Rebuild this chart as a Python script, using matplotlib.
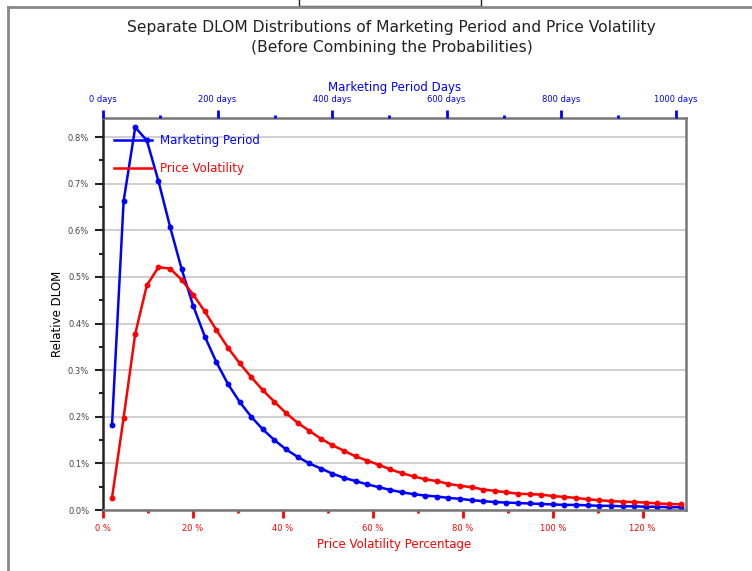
import numpy as np
import matplotlib
matplotlib.use("Agg")
import matplotlib.pyplot as plt
from matplotlib.lines import Line2D
from matplotlib.patches import Rectangle
from matplotlib.ticker import MultipleLocator, FuncFormatter

# relative DLOM in percent
marketing = [0.182, 0.663, 0.821, 0.793, 0.706, 0.608, 0.517, 0.438, 0.372, 0.317,
             0.270, 0.232, 0.200, 0.173, 0.150, 0.130, 0.114, 0.100, 0.089, 0.078,
             0.069, 0.062, 0.055, 0.049, 0.043, 0.038, 0.034, 0.031, 0.029, 0.026,
             0.024, 0.021, 0.019, 0.017, 0.016, 0.015, 0.014, 0.013, 0.012, 0.011,
             0.011, 0.010, 0.009, 0.009, 0.008, 0.008, 0.007, 0.007, 0.006, 0.006]
volatility = [0.026, 0.198, 0.378, 0.482, 0.521, 0.518, 0.494, 0.462, 0.426, 0.386,
              0.348, 0.315, 0.285, 0.257, 0.232, 0.208, 0.187, 0.170, 0.153, 0.139,
              0.127, 0.115, 0.106, 0.097, 0.087, 0.079, 0.072, 0.066, 0.062, 0.056,
              0.052, 0.049, 0.044, 0.041, 0.038, 0.035, 0.034, 0.033, 0.030, 0.028,
              0.026, 0.023, 0.021, 0.019, 0.018, 0.017, 0.016, 0.014, 0.013, 0.012]
# x grid in price volatility percent
vol_pct = 2.0 + 2.58 * np.arange(len(volatility))

day_ticks = [0, 200, 400, 600, 800, 1000]
pct_ticks = [0, 20, 40, 60, 80, 100, 120]

BLUE = "#0000ff"
RED = "#ff0000"

fig = plt.figure(figsize=(7.52, 5.71), dpi=100)
ax = fig.add_axes([0.137, 0.1068, 0.775, 0.6865])

ax.plot(vol_pct, marketing, color=BLUE, lw=1.8, marker="o", ms=3.2)
ax.plot(vol_pct, volatility, color=RED, lw=1.8, marker="o", ms=3.2)

ax.set_xlim(0, 129.6)
ax.set_ylim(0, 0.841)
ax.set_yticks(np.arange(0, 0.81, 0.1))
ax.yaxis.set_minor_locator(MultipleLocator(0.05))
ax.yaxis.set_major_formatter(FuncFormatter(lambda v, p: "%.1f%%" % v))
ax.set_xticks(pct_ticks)
ax.xaxis.set_minor_locator(MultipleLocator(10))
ax.set_xticklabels(["%d %%" % t for t in pct_ticks])
ax.grid(axis="y", color="#cccccc", lw=1.3)
ax.set_axisbelow(True)

ax.tick_params(axis="y", which="major", length=6, width=1.5, color="#222222",
               labelsize=6, labelcolor="#444444", pad=4)
ax.tick_params(axis="y", which="minor", length=3, width=1.5, color="#222222")
ax.tick_params(axis="x", which="major", length=6, width=2, color=RED,
               labelsize=6, labelcolor=RED, pad=4)
ax.tick_params(axis="x", which="minor", length=2.5, width=2, color=RED)
ax.set_xlabel("Price Volatility Percentage", color=RED, fontsize=8.5, labelpad=4)
ax.set_ylabel("Relative DLOM", fontsize=8.5, labelpad=3)

for side in ["top", "right", "bottom"]:
    ax.spines[side].set_color("#777777")
    ax.spines[side].set_linewidth(1.8)
ax.spines["left"].set_color("#222222")
ax.spines["left"].set_linewidth(1.8)

top = ax.twiny()
top.set_xlim(0, 1018)
top.set_xticks(day_ticks)
top.set_xticklabels(["%d days" % d for d in day_ticks])
top.xaxis.set_minor_locator(MultipleLocator(100))
top.tick_params(axis="x", which="major", length=6, width=2, color=BLUE,
                labelsize=6, labelcolor=BLUE, pad=4)
top.tick_params(axis="x", which="minor", length=2.5, width=2, color=BLUE)
top.set_xlabel("Marketing Period Days", color=BLUE, fontsize=8.5, labelpad=3)
for side in top.spines:
    top.spines[side].set_visible(False)

# legend handles drawn as plain lines, no markers
handles = [Line2D([], [], color=BLUE, lw=1.8), Line2D([], [], color=RED, lw=1.8)]
leg = ax.legend(handles, ["Marketing Period", "Price Volatility"], loc="upper left",
                frameon=False, fontsize=8.5, handlelength=3.2, handletextpad=0.7,
                labelspacing=1.25, borderaxespad=0.3, bbox_to_anchor=(0.005, 0.98))
for line, text in zip(leg.get_lines(), leg.get_texts()):
    text.set_color(line.get_color())

fig.text(0.521, 0.952, "Separate DLOM Distributions of Marketing Period and Price Volatility",
         ha="center", va="center", fontsize=11.2, color="#222222")
fig.text(0.521, 0.917, "(Before Combining the Probabilities)",
         ha="center", va="center", fontsize=11.2, color="#222222")

# screenshot frame around the picture
W, H = 752.0, 571.0
fig.add_artist(Line2D([8 / W, 1], [1 - 7 / H, 1 - 7 / H], color="#888888", lw=2,
                      transform=fig.transFigure))
fig.add_artist(Line2D([8 / W, 8 / W], [0, 1 - 7 / H], color="#888888", lw=2,
                      transform=fig.transFigure))
fig.add_artist(Rectangle((299 / W, 1 - 6 / H), 182 / W, 8 / H, fill=True,
                         facecolor="white", edgecolor="#222222", lw=1,
                         transform=fig.transFigure))

fig.savefig("out.png", dpi=100)
